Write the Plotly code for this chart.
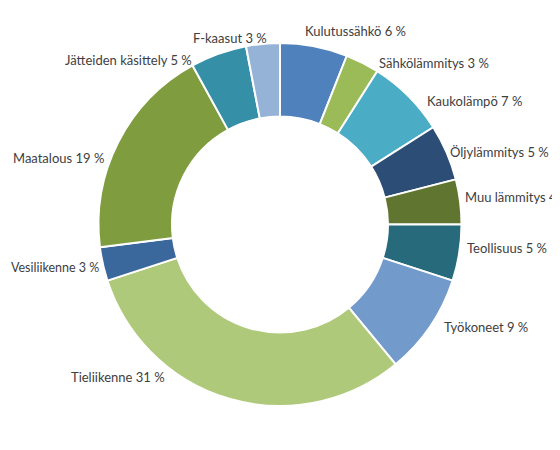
import plotly.graph_objects as go

labels = ['Kulutussähkö', 'Sähkölämmitys', 'Kaukolämpö', 'Öljylämmitys', 'Muu lämmitys',
          'Teollisuus', 'Työkoneet', 'Tieliikenne', 'Vesiliikenne', 'Maatalous',
          'Jätteiden käsittely', 'F-kaasut']
values = [6, 3, 7, 5, 4, 5, 9, 31, 3, 19, 5, 3]
colors = ['#4F81BD', '#9BBB59', '#4BACC6', '#2C4D75', '#5F7530', '#276A7C',
          '#729ACA', '#AFC97A', '#3A679C', '#7F9D3F', '#358FA6', '#95B3D7']

# label placement in pixels (x, y, anchor, size), like the Excel best-fit layout
label_pos = [(303, 31, 'left', 13), (377, 63, 'left', 13), (425, 101, 'left', 13),
             (448, 152, 'left', 13), (463, 197, 'left', 13), (465, 248, 'left', 13),
             (442, 327, 'left', 13), (167, 377, 'right', 13), (8.5, 267, 'left', 12.5),
             (106, 158, 'right', 13), (194, 60, 'right', 13), (269, 38, 'right', 13)]

W, H = 560, 450
OFF = 8  # page body margin shifts the figure

fig = go.Figure(go.Pie(
    labels=labels, values=values,
    hole=0.595, sort=False, direction='clockwise', rotation=0,
    marker=dict(colors=colors, line=dict(color='white', width=2)),
    textinfo='none', hoverinfo='label+value',
    domain=dict(x=[0, 1 - 2 * OFF / W], y=[1 - (406 - OFF) / H, 1 - (43 - OFF) / H]),
    showlegend=False,
))

for lab, val, (px, py, anchor, size) in zip(labels, values, label_pos):
    fig.add_annotation(x=(px - OFF) / W, y=1 - (py - OFF) / H, xref='paper', yref='paper',
                       text=f'{lab} {val} %', showarrow=False,
                       xanchor=anchor, yanchor='middle',
                       font=dict(family='Lato', size=size, color='#404040'))

fig.update_layout(width=W, height=H, margin=dict(l=0, r=0, t=0, b=0),
                  paper_bgcolor='white')

fig.write_html("out.html")
